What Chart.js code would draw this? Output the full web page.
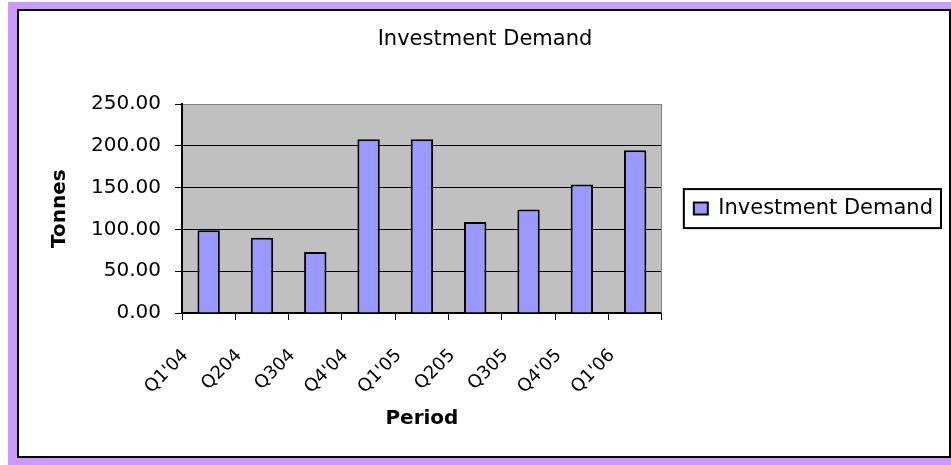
<!DOCTYPE html>
<html><head><meta charset="utf-8">
<script src="https://cdn.jsdelivr.net/npm/chart.js@4.4.1/dist/chart.umd.min.js"></script>
<style>
html,body{margin:0;padding:0;background:#fff;width:951px;height:465px;overflow:hidden;}
#purple{position:absolute;left:8px;top:2px;width:943px;height:463px;background:#CC99FF;}
#frame{position:absolute;left:17px;top:9px;width:930px;height:445px;border:2px solid #000;background:#fff;}
#c{position:absolute;left:0;top:0;}
</style></head>
<body>
<div id="purple"></div>
<div id="frame"></div>
<canvas id="c" width="951" height="465"></canvas>
<script>
const categories = ["Q1'04","Q204","Q304","Q4'04","Q1'05","Q205","Q305","Q4'05","Q1'06"];
const investmentDemand = [99, 90, 73, 208, 208, 109, 124, 154, 195];
const seriesName = "Investment Demand";
const chartTitle = "Investment Demand";
const xTitle = "Period";
const yTitle = "Tonnes";
const yMin = 0, yMax = 250, yStep = 50;

const FONT = "'DejaVu Sans', sans-serif";
Chart.defaults.color = '#000';
Chart.defaults.font.family = FONT;

const plotBg = {
  id: 'plotBg',
  beforeDraw(chart) {
    const {ctx, chartArea: a} = chart;
    ctx.save();
    ctx.fillStyle = '#C0C0C0';
    ctx.fillRect(a.left, a.top, a.right - a.left, a.bottom - a.top);
    ctx.restore();
  },
  beforeDatasetsDraw(chart) {
    const {ctx, chartArea: a} = chart;
    ctx.save();
    ctx.strokeStyle = '#808080';
    ctx.lineWidth = 1;
    ctx.beginPath();
    ctx.moveTo(Math.round(a.right) - 0.5, a.top);
    ctx.lineTo(Math.round(a.right) - 0.5, a.bottom);
    ctx.stroke();
    ctx.restore();
  }
};
const titleCenter = {
  id: 'titleCenter',
  afterLayout(chart) {
    const t = chart.titleBlock;
    if (t) { t.left = 19; t.right = 951; t.width = t.right - t.left; }
  }
};
const legendBorder = {
  id: 'legendBorder',
  afterDraw(chart) {
    const lg = chart.legend;
    if (!lg || !lg.legendHitBoxes || !lg.legendHitBoxes.length) return;
    const hb = lg.legendHitBoxes[0];
    const {ctx} = chart;
    const cy = hb.top + hb.height / 2;
    ctx.save();
    ctx.strokeStyle = '#000';
    ctx.lineWidth = 2;
    ctx.strokeRect(hb.left - 10, cy - 19.5, hb.width + 18, 39);
    ctx.restore();
  }
};

new Chart(document.getElementById('c'), {
  type: 'bar',
  data: {
    labels: categories,
    datasets: [{
      label: seriesName,
      data: investmentDemand,
      backgroundColor: '#9999FF',
      borderColor: '#000',
      borderWidth: 2,
      borderSkipped: 'start',
      barPercentage: 0.42,
      categoryPercentage: 1.0
    }]
  },
  options: {
    responsive: false,
    animation: false,
    events: [],
    layout: { padding: { left: 19, right: 8, top: 11, bottom: 9 } },
    plugins: {
      title: {
        display: true, text: chartTitle, color: '#000',
        font: { family: FONT, size: 21, weight: 'normal' },
        padding: { top: 16, bottom: 52 }
      },
      legend: {
        position: 'right', fullSize: false, maxWidth: 300,
        labels: {
          color: '#000', font: { family: FONT, size: 21 },
          boxWidth: 14, boxHeight: 12, padding: 32
        }
      },
      tooltip: { enabled: false }
    },
    scales: {
      x: {
        grid: { offset: true, drawOnChartArea: false, drawTicks: true, tickLength: 7, color: '#000', lineWidth: 1 },
        border: { display: true, color: '#000', width: 2 },
        ticks: { autoSkip: false, maxRotation: 45, minRotation: 45, padding: 25, labelOffset: -23,
                 color: '#000', font: { family: FONT, size: 18 } },
        title: { display: true, text: xTitle, color: '#000', font: { family: FONT, size: 20, weight: 'bold' },
                 padding: { top: 0, bottom: 25 } },
        afterFit(s) { s.height = 143; }
      },
      y: {
        min: yMin, max: yMax,
        grid: { drawTicks: true, tickLength: 7, lineWidth: 1,
                color: (c) => (c.tick && c.tick.value === yMax) ? '#808080' : '#000',
                tickColor: '#000' },
        border: { display: true, color: '#000', width: 2 },
        ticks: { stepSize: yStep, padding: 14, color: '#000', font: { family: FONT, size: 20 },
                 callback: (v) => Number(v).toFixed(2) },
        title: { display: true, text: yTitle, color: '#000', font: { family: FONT, size: 20, weight: 'bold' },
                 padding: { top: 29, bottom: 0 } },
        afterFit(s) { s.width = 163; }
      }
    }
  },
  plugins: [plotBg, titleCenter, legendBorder]
});
</script>
</body></html>
